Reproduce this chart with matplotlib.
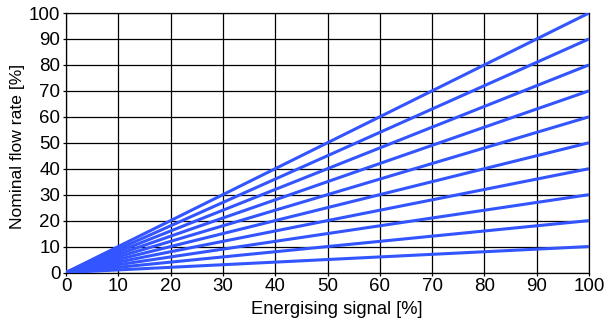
import matplotlib
matplotlib.use("Agg")
import matplotlib.pyplot as plt

# energising signal range and end values of each characteristic line
signal = [0, 100]
flow_end = [10, 20, 30, 40, 50, 60, 70, 80, 90, 100]
ticks = [0, 10, 20, 30, 40, 50, 60, 70, 80, 90, 100]

plt.rcParams['font.family'] = ['Liberation Sans', 'DejaVu Sans']

fig = plt.figure(figsize=(6.12, 3.27), dpi=100)
ax = fig.add_axes([66 / 612, 1 - 272.5 / 327, 523 / 612, 259.5 / 327])

for f in flow_end:
    ax.plot(signal, [0, f], color='#3355ff', lw=2.2, solid_capstyle='butt', zorder=3)

ax.set_xlim(0, 100)
ax.set_ylim(0, 100)
ax.set_xticks(ticks)
ax.set_yticks(ticks)
ax.grid(True, color='black', lw=0.9)
ax.tick_params(length=2.5, width=0.9, labelsize=13.5, pad=1.5)
for s in ax.spines.values():
    s.set_color('black')
    s.set_linewidth(0.9)

ax.set_xlabel("Energising signal [%]", fontsize=13.2)
ax.set_ylabel("Nominal flow rate [%]", fontsize=12.6)
ax.xaxis.set_label_coords(0.518, -0.108)
ax.yaxis.set_label_coords(-0.078, 0.486)

fig.savefig("out.png", dpi=100)
